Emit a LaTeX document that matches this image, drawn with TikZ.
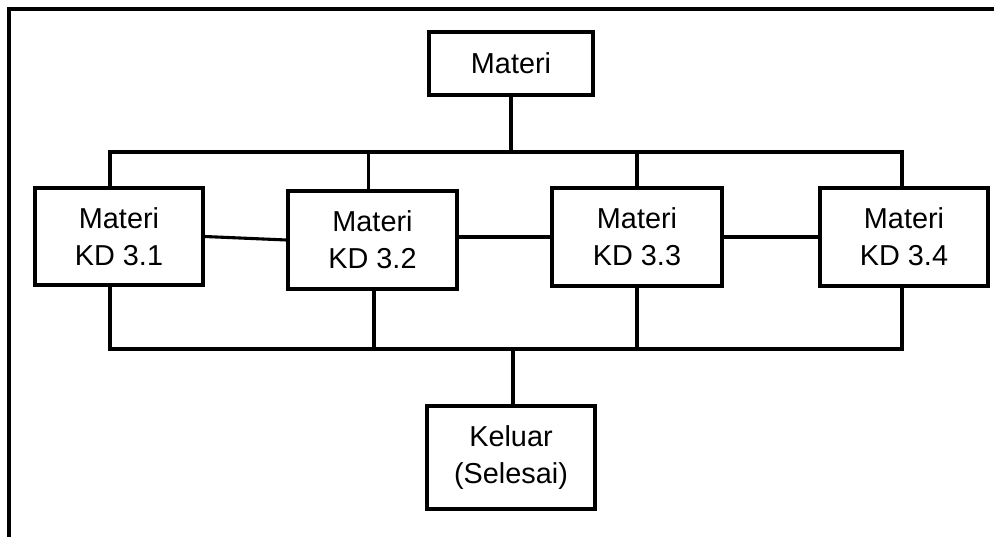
\documentclass[tikz,border=0pt]{standalone}
\usepackage{fontspec}
\setmainfont{Liberation Sans}
\usetikzlibrary{calc}

\tikzset{
    kotak/.style={draw, line width=2.2pt, align=center, inner sep=0pt,
        font=\fontsize{20.5}{26.5}\selectfont},
    garis/.style={line width=2.2pt}
}

\begin{document}
\begin{tikzpicture}[x=0.025cm, y=-0.025cm]
            \useasboundingbox (0,0) rectangle (994,537);
            \def\atas{152};
            \def\bawah{349};

            % bingkai luar
            \draw[line width=2.6pt] (9,537) -- (9,9) -- (994,9);

            \node[kotak, minimum width=164*0.025cm, minimum height=63*0.025cm] (materi) at (511,63.5) {Materi};

            \node[kotak, minimum width=168*0.025cm, minimum height=97*0.025cm] (kd1) at (119,236.5) {Materi\\KD 3.1};
            \node[kotak, minimum width=169*0.025cm, minimum height=98*0.025cm] (kd2) at (372.5,240) {Materi\\KD 3.2};
            \node[kotak, minimum width=170*0.025cm, minimum height=98*0.025cm] (kd3) at (637,237) {Materi\\KD 3.3};
            \node[kotak, minimum width=168*0.025cm, minimum height=98*0.025cm] (kd4) at (904,237) {Materi\\KD 3.4};

            \node[kotak, minimum width=168*0.025cm, minimum height=103*0.025cm] (keluar) at (511,457.5) {Keluar\\(Selesai)};

            \coordinate (bA) at (511,\atas);
            \coordinate (bB) at (513,\bawah);
            % titik sambung pada kotak
            \coordinate (n1) at ($(kd1.north)+(-9,0)$);
            \coordinate (n2) at ($(kd2.north)+(-4,0)$);
            \coordinate (n4) at ($(kd4.north)+(-2,0)$);
            \coordinate (s1) at ($(kd1.south)+(-9,0)$);
            \coordinate (s2) at ($(kd2.south)+(1.5,0)$);
            \coordinate (s4) at ($(kd4.south)+(-2,0)$);
            \coordinate (e2) at ($(kd2.east)+(0,-3)$);

            % cabang atas
            \draw[garis] (materi.south) -- (bA);
            \draw[garis] (n1) -- (n1 |- bA) -- (n4 |- bA) -- (n4);
            \draw[garis] (n2) -- (n2 |- bA);
            \draw[garis] (kd3.north) -- (kd3.north |- bA);

            % hubungan antar materi
            \draw[garis] (kd1.east) -- (kd2.west);
            \draw[garis] (e2) -- (kd3.west);
            \draw[garis] (kd3.east) -- (kd4.west);

            % cabang bawah
            \draw[garis] (s1) -- (s1 |- bB) -- (s4 |- bB) -- (s4);
            \draw[garis] (s2) -- (s2 |- bB);
            \draw[garis] (kd3.south) -- (kd3.south |- bB);
            \draw[garis] (bB) -- (bB |- keluar.north);
        \end{tikzpicture}
\end{document}
